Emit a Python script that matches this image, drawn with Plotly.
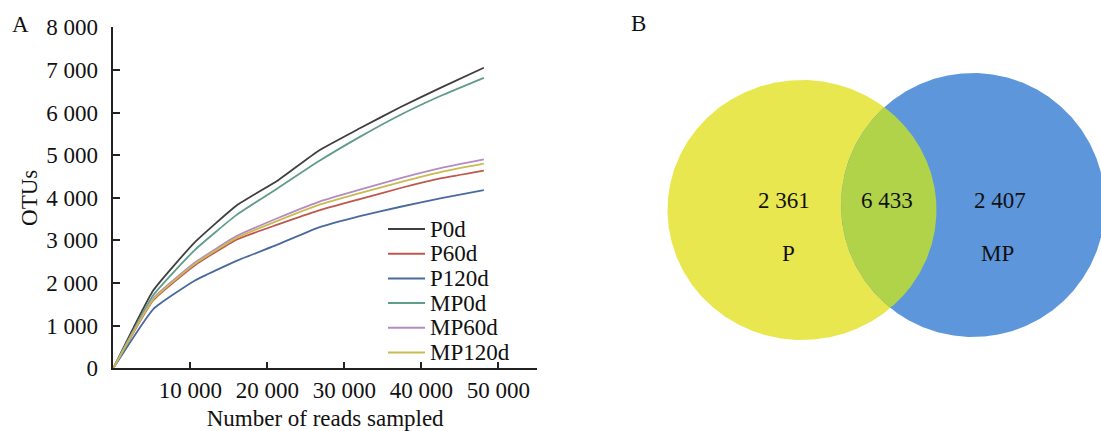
import numpy as np
import plotly.graph_objects as go

# ---------------- data ----------------
reads = [0, 5200, 10600, 16000, 21300, 26600, 32000, 37300, 42600, 48100]
series_names = ["P0d", "P60d", "P120d", "MP0d", "MP60d", "MP120d"]
P0d = [0, 1830, 2960, 3820, 4400, 5100, 5630, 6130, 6590, 7050]
P60d = [0, 1600, 2420, 3020, 3370, 3700, 3970, 4230, 4460, 4640]
P120d = [0, 1390, 2060, 2520, 2900, 3300, 3570, 3790, 3990, 4180]
MP0d = [0, 1720, 2780, 3600, 4220, 4850, 5430, 5950, 6400, 6815]
MP60d = [0, 1640, 2480, 3100, 3520, 3900, 4190, 4460, 4700, 4900]
MP120d = [0, 1620, 2450, 3060, 3460, 3830, 4110, 4370, 4610, 4800]
series_values = [P0d, P60d, P120d, MP0d, MP60d, MP120d]
series_colors = ["#3f3f3f", "#c0574f", "#4a6a9e", "#5f9c8c", "#b48cc4", "#c9bb50"]

y_ticks = [0, 1000, 2000, 3000, 4000, 5000, 6000, 7000, 8000]
y_ticktext = ["0", "1 000", "2 000", "3 000", "4 000", "5 000", "6 000", "7 000", "8 000"]
x_ticks = [10000, 20000, 30000, 40000, 50000]
x_ticktext = ["10 000", "20 000", "30 000", "40 000", "50 000"]

venn_labels = ["P", "MP"]
venn_only = [2361, 2407]
venn_shared = 6433

FONT = "Liberation Serif"
W, H = 1101, 431

fig = go.Figure()

for name, vals, col in zip(series_names, series_values, series_colors):
    fig.add_trace(go.Scatter(x=reads, y=vals, name=name, mode="lines",
                             line=dict(color=col, width=1.8, shape="spline", smoothing=0.4),
                             showlegend=False, xaxis="x", yaxis="y"))

# ---------------- Venn (pixel-like coordinates on x2/y2) ----------------
cP = (802.0, 210.0, 134.5, 130.0)   # cx, cy, rx, ry
cM = (973.0, 205.0, 132.0, 132.0)

def ellipse(c, th):
    cx, cy, rx, ry = c
    return cx + rx * np.cos(th), cy + ry * np.sin(th)

def inside(c, x, y):
    cx, cy, rx, ry = c
    return ((x - cx) / rx) ** 2 + ((y - cy) / ry) ** 2 <= 1.0

th = np.linspace(0, 2 * np.pi, 721)
for c, col in [(cP, "#e9e74f"), (cM, "#5e96dc")]:
    x, y = ellipse(c, th)
    fig.add_trace(go.Scatter(x=x, y=y, fill="toself", fillcolor=col, mode="lines",
                             line=dict(width=0, color=col), showlegend=False,
                             hoverinfo="skip", xaxis="x2", yaxis="y2"))

thP = np.linspace(-np.pi, np.pi, 1441)
xp, yp = ellipse(cP, thP)
mP = inside(cM, xp, yp)
thM = np.linspace(0, 2 * np.pi, 1441)
xm, ym = ellipse(cM, thM)
mM = inside(cP, xm, ym)
lx = np.concatenate([xp[mP], xm[mM]])
ly = np.concatenate([yp[mP], ym[mM]])
fig.add_trace(go.Scatter(x=lx, y=ly, fill="toself", fillcolor="#b1d34a", mode="lines",
                         line=dict(width=0, color="#b1d34a"), showlegend=False,
                         hoverinfo="skip", xaxis="x2", yaxis="y2"))

ann = []
shapes = []
vfont = dict(family=FONT, size=23, color="#111")
def fmt(v):
    return f"{v:,}".replace(",", " ")
for x, y, t in [(784, 200, fmt(venn_only[0])), (887, 200, fmt(venn_shared)),
                (1000, 200, fmt(venn_only[1])), (788, 253, venn_labels[0]),
                (997, 253, venn_labels[1])]:
    ann.append(dict(x=x, y=y, text=t, xref="x2", yref="y2", xanchor="center",
                    yanchor="middle", showarrow=False, font=vfont))
ann.append(dict(x=20 / W, y=1 - 24 / H, text="A", xref="paper", yref="paper", showarrow=False,
                xanchor="center", yanchor="middle", font=dict(family=FONT, size=23, color="#111")))
ann.append(dict(x=638 / W, y=1 - 23 / H, text="B", xref="paper", yref="paper", showarrow=False,
                xanchor="center", yanchor="middle", font=dict(family=FONT, size=23, color="#111")))

# legend (drawn inside the lower-right of the curve panel)
leg_x0, leg_x1, leg_text_x = 388, 425, 428
leg_y0, leg_dy = 229, 24.7
for i, (name, col) in enumerate(zip(series_names, series_colors)):
    yy = 1 - (leg_y0 + i * leg_dy) / H
    shapes.append(dict(type="line", xref="paper", yref="paper", x0=leg_x0 / W, x1=leg_x1 / W,
                       y0=yy, y1=yy, line=dict(color=col, width=2)))
    ann.append(dict(x=leg_text_x / W, y=yy, text=name, xref="paper", yref="paper",
                    xanchor="left", yanchor="middle", showarrow=False,
                    font=dict(family=FONT, size=23, color="#111")))

axis_font = dict(family=FONT, size=23, color="#111")
fig.update_layout(
    width=W, height=H,
    margin=dict(l=0, r=0, t=0, b=0, autoexpand=False),
    paper_bgcolor="white", plot_bgcolor="rgba(0,0,0,0)",
    font=dict(family=FONT, size=23, color="#111"),
    xaxis=dict(domain=[113.3 / W, 537 / W], range=[0, 55000], showgrid=False, zeroline=False,
               showline=True, linecolor="#222", linewidth=1.6,
               ticks="inside", ticklen=7, tickwidth=1.5, tickcolor="#222",
               tickvals=x_ticks, ticktext=x_ticktext, tickfont=axis_font,
               ticklabelstandoff=0, automargin=False,
               title=dict(text="Number of reads sampled", font=axis_font, standoff=8),
               anchor="y"),
    yaxis=dict(domain=[(H - 368.3) / H, (H - 27.3) / H], range=[0, 8000], showgrid=False,
               zeroline=False, showline=True, linecolor="#222", linewidth=1.6,
               ticks="inside", ticklen=7, tickwidth=1.5, tickcolor="#222",
               tickvals=y_ticks, ticktext=y_ticktext, tickfont=axis_font,
               ticklabelstandoff=9, automargin=False,
               title=dict(text="OTUs", font=axis_font, standoff=2),
               anchor="x"),
    xaxis2=dict(domain=[600 / W, 1.0], range=[600, 1101], visible=False, anchor="y2",
                automargin=False),
    yaxis2=dict(domain=[0, 1], range=[431, 0], visible=False, anchor="x2", automargin=False),
    annotations=ann,
    shapes=shapes,
    showlegend=False,
)

fig.write_html("out.html", config={"displayModeBar": False},
               post_script="document.body.style.margin='0';document.body.style.overflow='hidden';")
